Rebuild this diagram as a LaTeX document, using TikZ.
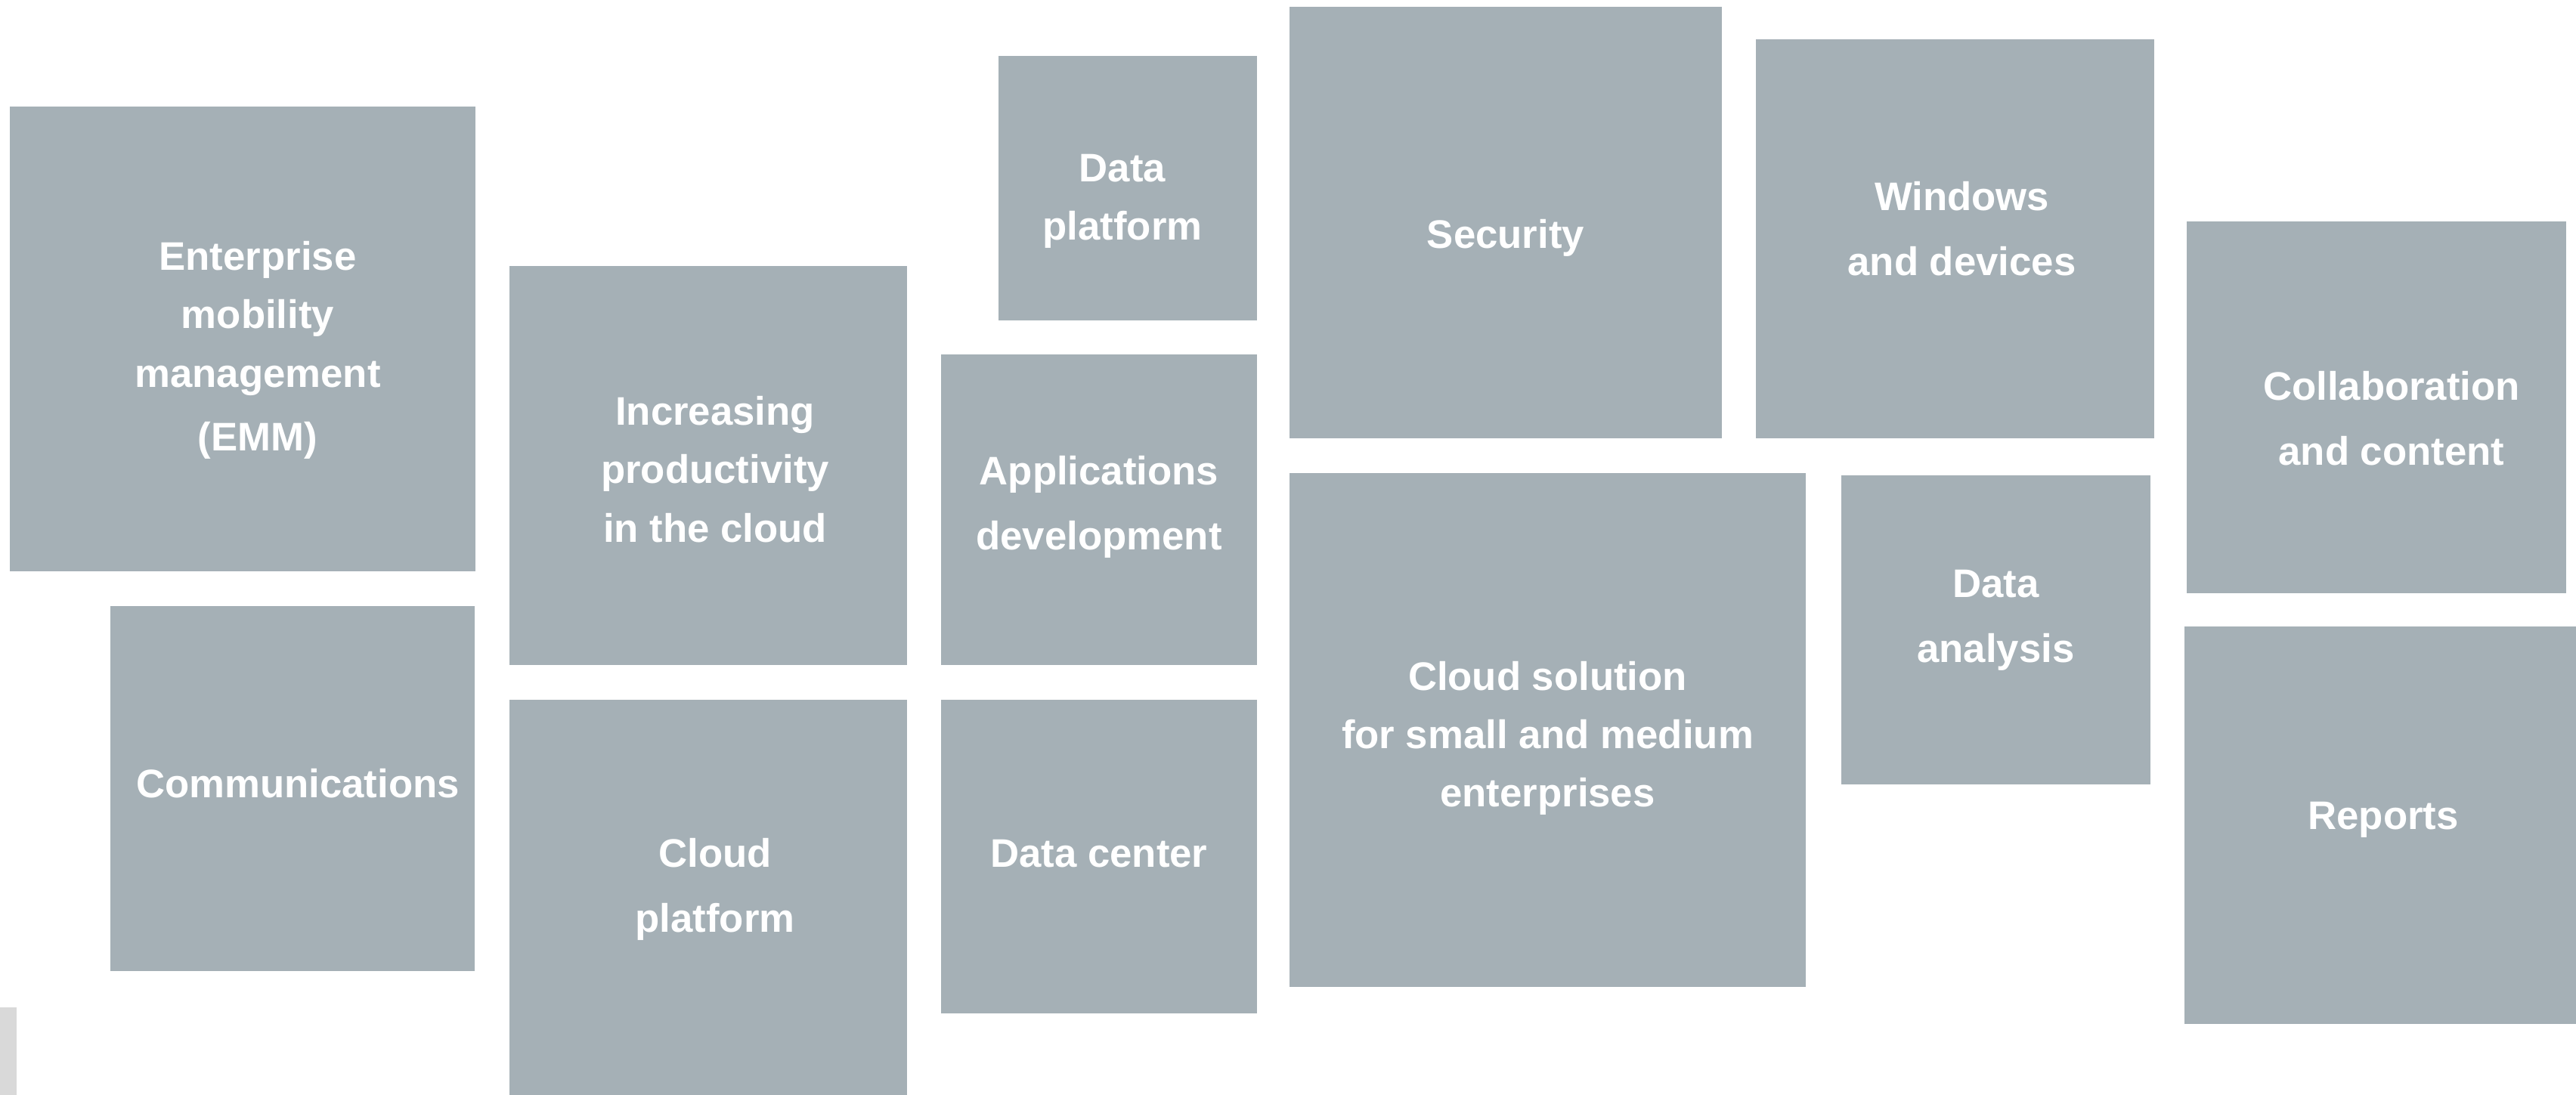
\documentclass[tikz,border=0pt]{standalone}
\usepackage{fontspec}
\setmainfont{Liberation Sans}
\usetikzlibrary{positioning}

\definecolor{tilegray}{HTML}{A5B0B6}
\definecolor{markgray}{HTML}{D9D9D9}

\tikzset{
    tile/.style={fill=tilegray, draw=none, inner sep=0pt},
    caption/.style={inner sep=0pt, align=center, text=white,
        font=\fontsize{15}{22}\selectfont\bfseries},
    loose/.style={font=\fontsize{15}{24.4}\selectfont\bfseries},
}

\begin{document}
\begin{tikzpicture}[]
    \useasboundingbox (0,0) rectangle (34.08,-14.49);

    % left column
    \node [tile, minimum width=6.16cm, minimum height=6.15cm] (emm) at (3.21,-4.485) {};
    \node [tile, minimum width=4.82cm, minimum height=4.83cm] (comm) at (3.87,-10.435) {};
    \node [tile, minimum width=5.26cm, minimum height=5.28cm] (prod) at (9.37,-6.16) {};
    \node [tile, minimum width=5.26cm, minimum height=5.23cm] (cplat) at (9.37,-11.875) {};

    % middle column
    \node [tile, minimum width=3.42cm, minimum height=3.50cm] (dplat) at (14.92,-2.49) {};
    \node [tile, minimum width=4.18cm, minimum height=4.11cm] (appdev) at (14.54,-6.745) {};
    \node [tile, minimum width=4.18cm, minimum height=4.15cm] (dcent) at (14.54,-11.335) {};
    \node [tile, minimum width=5.72cm, minimum height=5.71cm] (sec) at (19.92,-2.945) {};
    \node [tile, minimum width=6.83cm, minimum height=6.80cm] (csol) at (20.475,-9.66) {};

    % right column
    \node [tile, minimum width=5.27cm, minimum height=5.28cm] (win) at (25.865,-3.16) {};
    \node [tile, minimum width=4.09cm, minimum height=4.09cm] (dana) at (26.405,-8.335) {};
    \node [tile, minimum width=5.02cm, minimum height=4.92cm] (collab) at (31.44,-5.39) {};
    \node [tile, minimum width=5.18cm, minimum height=5.26cm] (rep) at (31.49,-10.92) {};

    % captions
    \node [caption] (emm-t) at ([shift={(0.20,-0.15)}]emm.center) {Enterprise\\mobility\\management\\[2pt](EMM)};
    \node [caption] (comm-t) at ([shift={(0.07,0.07)}]comm.center) {Communications};
    \node [caption] (prod-t) at ([shift={(0.09,-0.05)}]prod.center) {Increasing\\productivity\\in the cloud};
    \node [caption, loose] (cplat-t) at ([shift={(0.09,0.11)}]cplat.center) {Cloud\\platform};
    \node [caption] (dplat-t) at ([shift={(-0.07,-0.17)}]dplat.center) {Data\\platform};
    \node [caption, loose] (appdev-t) at ([shift={(0,0.04)}]appdev.center) {Applications\\development};
    \node [caption] (dcent-t) at ([shift={(0,0.04)}]dcent.center) {Data center};
    \node [caption] (sec-t) at ([shift={(0,-0.20)}]sec.center) {Security};
    \node [caption] (csol-t) at ([shift={(0,-0.11)}]csol.center) {Cloud solution\\for small and medium\\enterprises};
    \node [caption, loose] (win-t) at ([shift={(0.09,0.13)}]win.center) {Windows\\and devices};
    \node [caption, loose] (dana-t) at ([shift={(0,0.13)}]dana.center) {Data\\analysis};
    \node [caption, loose] (collab-t) at ([shift={(0.20,-0.15)}]collab.center) {Collaboration\\and content};
    \node [caption] (rep-t) at ([shift={(0.04,0.07)}]rep.center) {Reports};

    % corner mark
    \fill [markgray] (0,-13.33) rectangle (0.22,-14.49);
\end{tikzpicture}
\end{document}
